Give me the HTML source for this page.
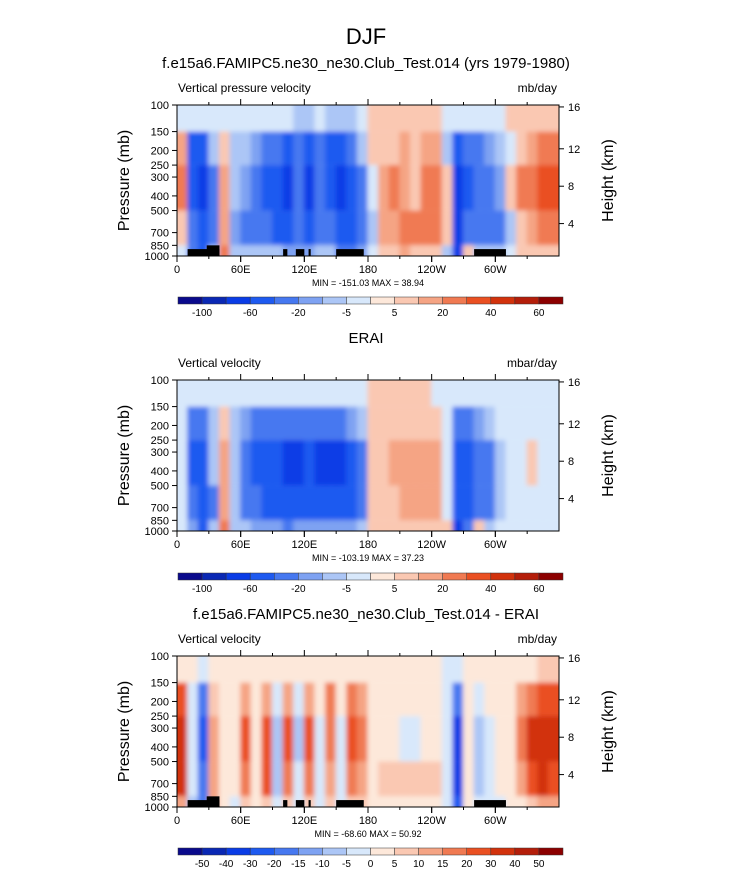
<!DOCTYPE html>
<html><head><meta charset="utf-8">
<style>
body{margin:0;background:#fff;font-family:"Liberation Sans",Arial,sans-serif;}
svg text{font-family:"Liberation Sans",Arial,sans-serif;fill:#000;}
</style></head>
<body>
<svg id="chart" width="733" height="872" xmlns="http://www.w3.org/2000/svg">
<defs><filter id="sm" filterUnits="userSpaceOnUse" x="0" y="0" width="733" height="872"><feGaussianBlur stdDeviation="2.5"/></filter></defs>
<text x="366" y="44" font-size="22" text-anchor="middle">DJF</text>
</svg>
<script>
const levelsA=[-100,-80,-60,-40,-20,-10,-5,0,5,10,20,30,40,50,60];
const labelsA=["-100","-60","-20","-5","5","20","40","60"];
const levelsB=[-50,-40,-30,-20,-15,-10,-5,0,5,10,15,20,30,40,50];
const labelsB=["-50","-40","-30","-20","-15","-10","-5","0","5","10","15","20","30","40","50"];
const colors=["#0a0a8c","#0a28b4","#0a3ce6","#1e5af0","#4678f0","#7ea2f2","#acc6f6","#d8e8fb","#fde8da","#fac8b2","#f5a484","#f07a52","#ea5022","#d2320c","#b41e0a","#8c0000"];
const pBounds=[100,150,250,500,850,1000];
const p1r0=[-5,-5,-5,-5,-5,-5,-5,-5,-5,-5,-5,-10,-10,-5,-10,-10,-10,-5,5,5,5,5,5,5,5,-5,-5,-5,-5,-5,-5,5,5,5,5,5];
const p1r1=[10,-60,-60,-10,5,-10,-10,-20,-40,-40,-60,-40,-60,-40,-60,-60,-40,-10,5,5,5,10,5,10,10,-10,-60,-40,-40,-20,-10,-5,5,10,20,20];
const p1r2=[20,-60,-70,-40,15,-10,-20,-40,-60,-60,-70,-40,-70,-40,-60,-70,-60,-40,-5,10,20,10,5,20,20,5,-80,-60,-40,-40,-20,5,20,20,30,30];
const p1r3=[5,-40,-60,-40,10,-20,-40,-40,-40,-60,-60,-40,-60,-40,-40,-60,-60,-40,-10,10,10,20,20,20,20,5,-80,-40,-40,-40,-40,-10,5,10,20,20];
const p1r4=[-5,-40,-60,-10,20,-10,-10,-10,-10,-10,-20,-20,-20,-10,-10,-40,-40,-20,-5,5,5,10,5,5,5,-10,-80,5,-10,-10,-10,-5,5,5,5,5];
const p2r0=[-5,-5,-5,-5,-5,-5,-5,-5,-5,-5,-5,-5,-5,-5,-5,-5,-5,-5,5,5,5,5,5,5,-5,-5,-5,-5,-5,-5,-5,-5,-5,-5,-5,-5];
const p2r1=[-5,-40,-40,-10,5,-10,-20,-40,-40,-40,-40,-40,-40,-40,-40,-40,-20,-10,5,5,5,5,5,5,5,-5,-40,-40,-20,-10,-5,-5,-5,-5,-5,-5];
const p2r2=[-5,-60,-60,-10,10,-10,-40,-60,-60,-60,-70,-70,-60,-70,-70,-70,-60,-40,5,5,10,10,10,10,10,-5,-60,-60,-40,-40,-10,-5,-5,5,-5,-5];
const p2r3=[-5,-40,-60,-40,10,-10,-40,-40,-60,-60,-60,-60,-60,-60,-60,-60,-60,-40,5,5,5,10,10,10,10,-5,-60,-60,-40,-40,-10,-5,-5,-5,-5,-5];
const p2r4=[-5,-20,-60,-10,20,-10,-10,-20,-20,-20,-40,-20,-20,-20,-20,-20,-20,-10,5,5,5,5,5,5,5,5,-80,-40,5,-10,-5,-5,-5,-5,-5,-5];
const p3r0=[2,2,-2,2,2,2,2,2,2,2,2,2,2,2,2,2,2,2,2,2,2,2,2,2,2,-2,-5,2,2,2,2,2,2,2,5,5];
const p3r1=[20,-2,-20,5,2,2,10,2,10,-5,10,-5,10,2,15,2,15,10,2,2,2,2,2,2,2,-2,-20,2,-5,2,2,2,10,15,20,20];
const p3r2=[30,-5,-30,10,2,2,20,2,20,-10,20,-10,20,-5,15,-5,20,15,2,2,2,-2,-2,2,2,-2,-40,2,-10,-2,2,2,15,30,30,30];
const p3r3=[30,-5,-20,10,2,2,15,2,20,-10,15,-5,15,-5,10,-2,15,10,2,5,5,5,5,5,5,-2,-40,2,-10,-2,2,2,10,20,30,20];
const p3r4=[10,-10,-20,10,2,-2,5,2,5,-5,5,-5,5,-2,5,-5,5,5,2,2,2,2,2,2,2,-2,-30,2,-5,-2,-2,2,2,5,10,10];
const topoLon0=[10,28,100,112,124,150,280];
const topoLon1=[40,40,104,120,126,176,310];
const topoP=[900,850,900,900,900,900,900];
const pTicks=[100,150,200,250,300,400,500,700,850,1000];
const hTicks=[16,12,8,4];
const hTickP=[103,195,345,610];
const lonTicks=[0,60,120,180,240,300];
const lonLabels=["0","60E","120E","180","120W","60W"];

const svg=document.getElementById('chart');
const NS="http://www.w3.org/2000/svg";
function mk(tag,attrs,parent){const e=document.createElementNS(NS,tag);for(const k in attrs)e.setAttribute(k,attrs[k]);(parent||svg).appendChild(e);return e;}
function txt(s,x,y,size,anchor,parent){const t=mk('text',{x:x,y:y,'font-size':size,'text-anchor':anchor||'middle'},parent);t.textContent=s;return t;}
const X0=177,X1=559;
function xs(lon){return X0+lon/360*(X1-X0);}
function colorFor(v,levels){let i=0;for(const l of levels){if(v>=l)i++;}return colors[i];}

function panel(id,top,bot,rows,levels,labels,topo,title,lefttxt,unit,minmax,cbY){
  const g=mk('g',{});
  
  
  const ys=p=>top+Math.log10(p/100)*(bot-top);
  const clip=mk('clipPath',{id:'c'+id},g);
  mk('rect',{x:X0,y:top,width:X1-X0,height:bot-top},clip);
  const cg=mk('g',{'clip-path':'url(#c'+id+')'},g);
  const fg=mk('g',{filter:'url(#sm)'},cg);
  rows.forEach((row,r)=>{
    row.forEach((v,c)=>{
      const cell=mk('rect',{x:xs(c*10)-0.5-(c==0?6:0),y:ys(pBounds[r])-(r==0?6:0),width:xs(10)-X0+1+(c==0||c==35?6:0),height:ys(pBounds[r+1])-ys(pBounds[r])+(r==0?6:0)+(r==rows.length-1?6:0),fill:colorFor(v,levels)},fg);
      
      
    });
  });
  if(topo){topoLon0.forEach((l,i)=>{
    const b=mk('rect',{x:xs(l),y:ys(topoP[i]),width:xs(topoLon1[i])-xs(l),height:bot-ys(topoP[i]),fill:'#000'},cg);
    
    
  });}
  mk('rect',{x:X0,y:top,width:X1-X0,height:bot-top,fill:'none',stroke:'#000','stroke-width':1},g);
  pTicks.forEach(p=>{mk('line',{x1:X0-5,x2:X0,y1:ys(p),y2:ys(p),stroke:'#000'},g);
    const t=txt(String(p),X0-8,ys(p)+4,11,'end',g);});
  hTicks.forEach((h,i)=>{const y=ys(hTickP[i]);mk('line',{x1:X1,x2:X1+5,y1:y,y2:y,stroke:'#000'},g);
    const t=txt(String(h),X1+9,y+4,11,'start',g);});
  for(let l=30;l<360;l+=30){mk('line',{x1:xs(l),x2:xs(l),y1:bot,y2:bot+(l%60?3:6),stroke:'#000'},g);mk('line',{x1:xs(l),x2:xs(l),y1:top,y2:top-(l%60?3:6),stroke:'#000'},g);}
  lonTicks.forEach((l,i)=>{mk('line',{x1:xs(l),x2:xs(l),y1:bot,y2:bot+6,stroke:'#000'},g);
    const t=txt(lonLabels[i],xs(l),bot+17,11,'middle',g);});
  const tt=txt(title,366,top-37,15,'middle',g);
  const lt=txt(lefttxt,178,top-13,12,'start',g);
  const ut=txt(unit,557,top-13,12,'end',g);
  const yt=txt('Pressure (mb)',0,0,16,'middle',g);yt.setAttribute('transform','translate(129,'+((top+bot)/2)+') rotate(-90)');
  const ht=txt('Height (km)',0,0,16,'middle',g);ht.setAttribute('transform','translate(613,'+((top+bot)/2)+') rotate(-90)');
  const mm=txt(minmax,368,bot+30,9,'middle',g);
  const cb=mk('g',{},g);
  const bw=(563-178)/16;
  colors.forEach((c,i)=>{mk('rect',{x:178+i*bw,y:cbY,width:bw,height:7,fill:c,stroke:'#333','stroke-width':0.5},cb);});
  if(labels.length==8){labels.forEach((s,i)=>txt(s,178+(2*i+1)*bw,cbY+19,10,'middle',cb));}
  else{labels.forEach((s,i)=>txt(s,178+(i+1)*bw,cbY+19,10,'middle',cb));}
}
panel('panel-model',105,256,[p1r0,p1r1,p1r2,p1r3,p1r4],levelsA,labelsA,true,'f.e15a6.FAMIPC5.ne30_ne30.Club_Test.014 (yrs 1979-1980)','Vertical pressure velocity','mb/day','MIN = -151.03  MAX =  38.94',297);
panel('panel-erai',380,531,[p2r0,p2r1,p2r2,p2r3,p2r4],levelsA,labelsA,false,'ERAI','Vertical velocity','mbar/day','MIN = -103.19  MAX =  37.23',573);
panel('panel-diff',656,807,[p3r0,p3r1,p3r2,p3r3,p3r4],levelsB,labelsB,true,'f.e15a6.FAMIPC5.ne30_ne30.Club_Test.014 - ERAI','Vertical velocity','mb/day','MIN = -68.60  MAX =  50.92',848);
</script>
</body></html>
